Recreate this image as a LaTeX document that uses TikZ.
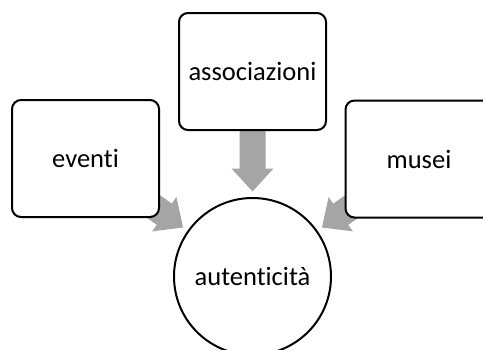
\documentclass[tikz,border=0pt]{standalone}
\usepackage{fontspec}
\setmainfont{Carlito}[Ligatures=NoCommon]
\usetikzlibrary{calc,backgrounds}
\definecolor{arrowgray}{HTML}{A5A5A5}
\tikzset{
  box/.style={draw=black, line width=2pt, rounded corners=9pt, fill=white,
    minimum width=147pt, minimum height=117pt, inner sep=0pt,
    font=\fontsize{26.5}{30}\selectfont},
  hub/.style={circle, draw=black, line width=2pt, fill=white,
    minimum size=157pt, inner sep=0pt, font=\fontsize{26.5}{30}\selectfont},
  feed/.style={fill=arrowgray, draw=none}
}
% Block arrow from the centre of node #1 towards node #2,
% its tip stopping just short of the circle.
\newcommand{\feedarrow}[2]{%
  \coordinate (tip) at ($(#2.center)!85pt!(#1.center)$);
  \coordinate (hb) at ($(tip)!23pt!(#1.center)$);
  \fill[feed] ($(#1.center)!13pt!90:(hb)$) -- ($(hb)!13pt!-90:(#1.center)$)
    -- ($(hb)!21pt!-90:(#1.center)$) -- (tip)
    -- ($(hb)!21pt!90:(#1.center)$) -- ($(hb)!13pt!90:(#1.center)$)
    -- ($(#1.center)!13pt!-90:(hb)$) -- cycle;
}
\begin{document}
\begin{tikzpicture}[x=1pt, y=-1pt]
  \useasboundingbox (0,0) rectangle (483,349);
  \clip (0,0) rectangle (483,349);
  \node[box] (ev) at (85.5,158.5) {eventi};
  \node[box] (as) at (252.5,71.5) {associazioni};
  \node[box] (mu) at (419,159) {musei};
  \node[hub] (aut) at (252.5,276.5) {autenticità};
  \begin{scope}[on background layer]
    \feedarrow{ev}{aut}
    \feedarrow{as}{aut}
    \feedarrow{mu}{aut}
  \end{scope}
\end{tikzpicture}
\end{document}
